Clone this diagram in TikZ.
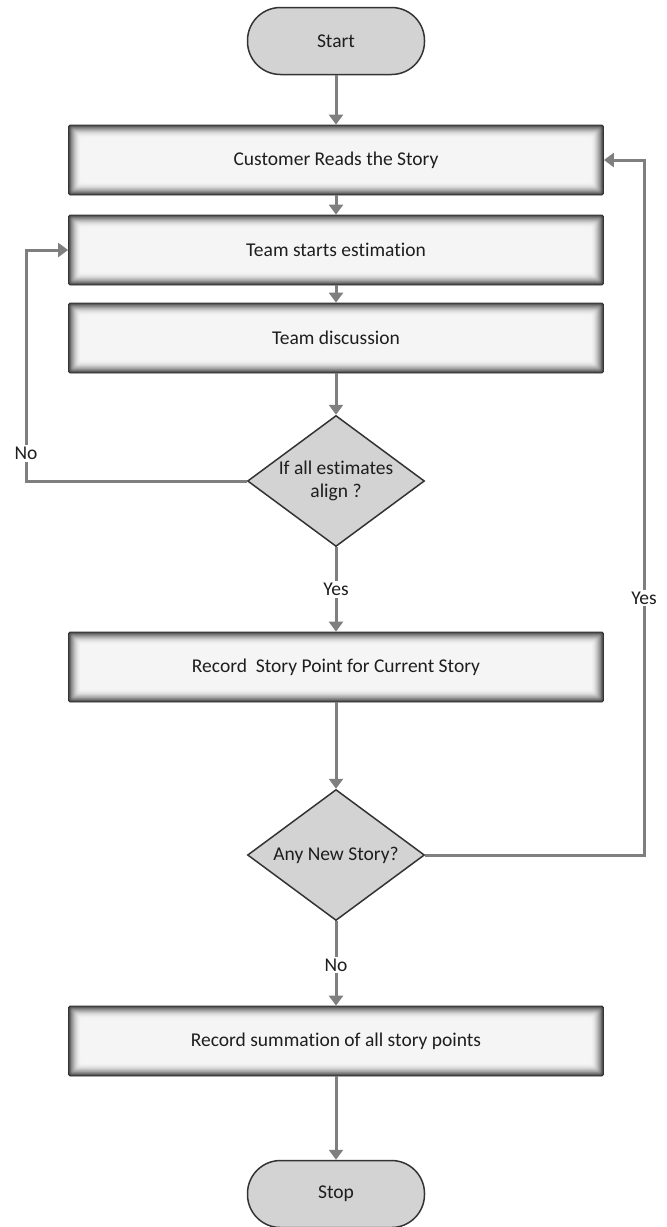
\documentclass[tikz,border=0pt]{standalone}
\usepackage{fontspec}
\setmainfont[Ligatures=NoCommon]{Carlito}
\usepackage{tikz}
\usetikzlibrary{arrows.meta, positioning, calc, shapes.geometric}
\definecolor{fcline}{RGB}{127,127,127}
\definecolor{fcfill}{RGB}{211,211,211}
\definecolor{fcedge}{RGB}{51,51,51}
\definecolor{fctext}{RGB}{30,30,30}

\begin{document}
\begin{tikzpicture}[x=1pt, y=-1pt,
  every node/.style={font=\fontsize{19.5}{23}\selectfont, text=fctext},
  terminal/.style={draw=fcedge, line width=1.5pt, fill=fcfill, rounded corners=33pt,
    minimum width=177pt, minimum height=67pt},
  process/.style={draw=fcedge, line width=0.8pt, rounded corners=1.5pt, inner sep=0pt,
    minimum width=535pt, minimum height=70pt,
    path picture={
      \foreach \i in {0,...,14}{
        \pgfmathsetmacro{\shd}{4+70*(1-\i/14)^2}
        \fill[black!\shd]
          ([shift={(\i*0.9pt,\i*0.9pt)}]path picture bounding box.south west) rectangle
          ([shift={(-\i*0.9pt,-\i*0.9pt)}]path picture bounding box.north east);
      }}},
  decision/.style={diamond, draw=fcedge, line width=1.5pt, fill=fcfill, aspect=1.35,
    inner sep=0pt, minimum width=177pt, minimum height=131pt, align=center},
  flow/.style={draw=fcline, line width=3pt, -{Triangle[width=14pt,length=10pt]}},
  lbl/.style={fill=white, inner sep=2pt}]
\useasboundingbox (0,0) rectangle (667,1227);

% ---- main column ----
\node[terminal] (start) at (336,41) {Start};
\node[process] (reads) at (336,160) {Customer Reads the Story};
\node[process] (estim) at (336,250) {Team starts estimation};
\node[process] (discuss) at (336,338) {Team discussion};
\node[decision] (align) at (336,481) {If all estimates\\align ?};
\node[process] (record) at (336,667) {Record\ \ Story Point for Current Story};
\node[decision] (anynew) at (336,855) {Any New Story?};
\node[process] (summ) at (336,1041) {Record summation of all story points};
\node[terminal] (stop) at (336,1194) {Stop};

% loop corners
\coordinate (nobot) at (26,481);
\coordinate (notop) at (26,250);
\coordinate (yesbot) at (644,855);
\coordinate (yestop) at (644,160);

% ---- connectors ----
\draw[flow] (start) -- (reads);
\draw[flow] (reads) -- (estim);
\draw[flow] (estim) -- (discuss);
\draw[flow] (discuss) -- (align);
\draw[flow] (align) -- node[lbl, pos=0.5]{Yes} (record);
\draw[flow] (record) -- (anynew);
\draw[flow] (anynew) -- node[lbl, pos=0.52]{No} (summ);
\draw[flow] (summ) -- (stop);

% back loops
\draw[flow] (align.west) -- (nobot) -- node[lbl, pos=0.12]{No} (notop) -- (estim.west);
\draw[flow] (anynew.east) -- (yesbot) -- node[lbl, pos=0.37]{Yes} (yestop) -- (reads.east);
\end{tikzpicture}
\end{document}
